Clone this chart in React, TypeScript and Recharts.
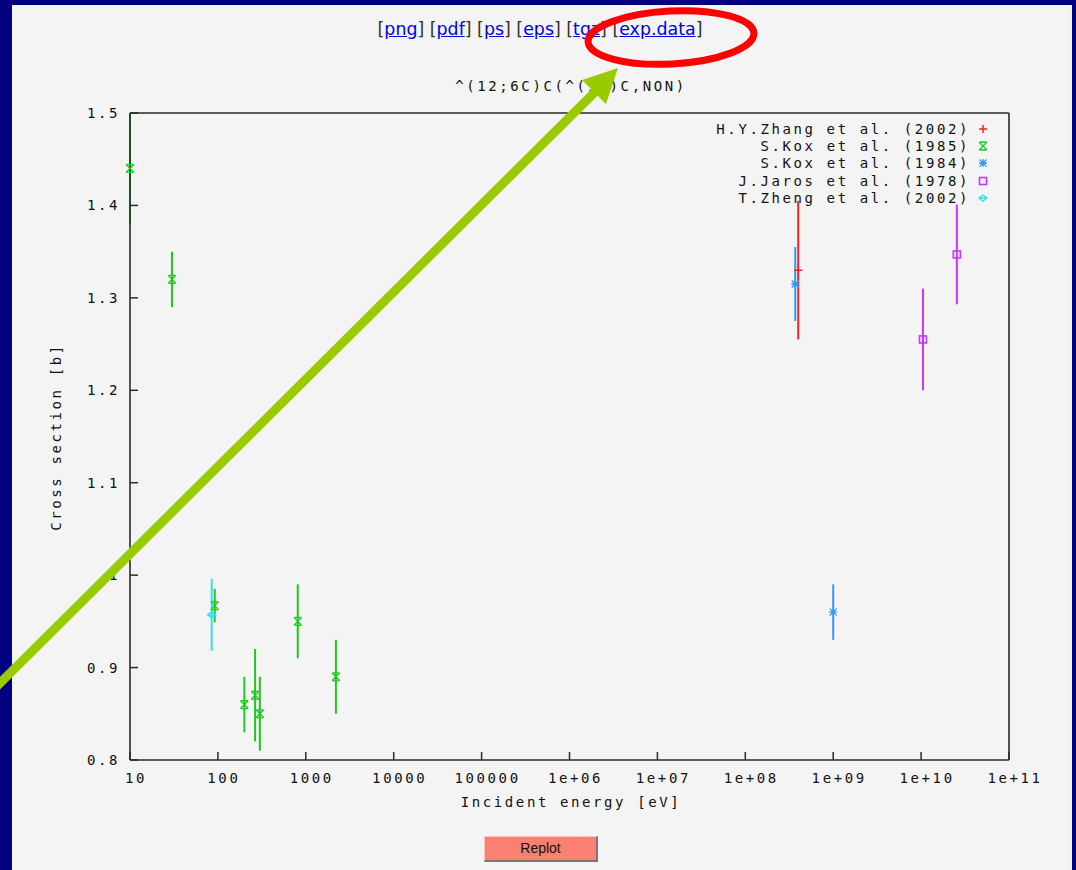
import React from "react";
import { ScatterChart, Scatter, XAxis, YAxis, ErrorBar, Legend } from "recharts";

// energy [eV], cross section [b], error [b]
const zhang2002 = [{ energy: 4.0e8, sigma: 1.33, err: 0.075 }];
const kox1985 = [
  { energy: 10, sigma: 1.44, err: 0.06 },
  { energy: 30, sigma: 1.32, err: 0.03 },
  { energy: 92, sigma: 0.967, err: 0.018 },
  { energy: 200, sigma: 0.86, err: 0.03 },
  { energy: 265, sigma: 0.87, err: 0.05 },
  { energy: 300, sigma: 0.85, err: 0.04 },
  { energy: 810, sigma: 0.95, err: 0.04 },
  { energy: 2200, sigma: 0.89, err: 0.04 },
];
const kox1984 = [
  { energy: 3.7e8, sigma: 1.315, err: 0.04 },
  { energy: 1.0e9, sigma: 0.96, err: 0.03 },
];
const jaros1978 = [
  { energy: 1.05e10, sigma: 1.255, err: 0.055 },
  { energy: 2.55e10, sigma: 1.347, err: 0.054 },
];
const zheng2002 = [{ energy: 85, sigma: 0.957, err: 0.039 }];

const xTicks = [10, 100, 1000, 1e4, 1e5, 1e6, 1e7, 1e8, 1e9, 1e10, 1e11];
const xTickLabels = ["10", "100", "1000", "10000", "100000", "1e+06", "1e+07", "1e+08", "1e+09", "1e+10", "1e+11"];
const yTicks = [0.8, 0.9, 1.0, 1.1, 1.2, 1.3, 1.4, 1.5];
const yTickLabels = ["0.8", "0.9", "1", "1.1", "1.2", "1.3", "1.4", "1.5"];

const MONO = "'DejaVu Sans Mono', 'Liberation Mono', monospace";
const AXIS = "#2a2a2a";
const TICK = 8;

type Mark = (cx: number, cy: number, c: string) => React.ReactElement;

const plusMark: Mark = (cx, cy, c) => (
  <path d={`M${cx - 4},${cy}H${cx + 4}M${cx},${cy - 4}V${cy + 4}`} stroke={c} strokeWidth={1.5} fill="none" />
);
const crossMark: Mark = (cx, cy, c) => (
  <path
    d={`M${cx - 4},${cy - 4}L${cx + 4},${cy + 4}M${cx - 4},${cy + 4}L${cx + 4},${cy - 4}M${cx - 3},${cy - 4}H${cx + 3}M${cx - 3},${cy + 4}H${cx + 3}`}
    stroke={c}
    strokeWidth={1.3}
    fill="none"
  />
);
const starMark: Mark = (cx, cy, c) => (
  <g>
    <path
      d={`M${cx - 4},${cy}H${cx + 4}M${cx},${cy - 4}V${cy + 4}M${cx - 3.5},${cy - 3.5}L${cx + 3.5},${cy + 3.5}M${cx - 3.5},${cy + 3.5}L${cx + 3.5},${cy - 3.5}`}
      stroke={c}
      strokeWidth={1.3}
      fill="none"
    />
    <circle cx={cx} cy={cy} r={2.2} fill={c} />
  </g>
);
const boxMark: Mark = (cx, cy, c) => (
  <rect x={cx - 3.5} y={cy - 3.5} width={7} height={7} stroke={c} strokeWidth={1.6} fill="none" />
);
const diamondMark: Mark = (cx, cy, c) => (
  <path
    d={`M${cx - 4},${cy}L${cx},${cy - 3}L${cx + 4},${cy}L${cx},${cy + 3}ZM${cx - 4},${cy}H${cx + 4}`}
    stroke={c}
    strokeWidth={1.4}
    fill="none"
  />
);

const series = [
  { name: "H.Y.Zhang et al. (2002)", data: zhang2002, color: "#ff2020", mark: plusMark },
  { name: "S.Kox et al. (1985)", data: kox1985, color: "#1ec81e", mark: crossMark },
  { name: "S.Kox et al. (1984)", data: kox1984, color: "#3399ff", mark: starMark },
  { name: "J.Jaros et al. (1978)", data: jaros1978, color: "#cc33ff", mark: boxMark },
  { name: "T.Zheng et al. (2002)", data: zheng2002, color: "#33e0f0", mark: diamondMark },
];

const labelFor = (ticks: number[], labels: string[], v: number) => {
  const i = ticks.findIndex((t) => Math.abs(t - v) <= Math.abs(t) * 1e-6);
  return i >= 0 ? labels[i] : String(v);
};

const textStyle = { fontFamily: MONO, fontSize: 14, letterSpacing: 2.6, fill: "#111" };

const BottomTick = (p: any) => (
  <g>
    <line x1={p.x} y1={p.y} x2={p.x} y2={p.y - TICK} stroke={AXIS} strokeWidth={1.5} />
    <text x={p.x + 6} y={p.y + 23} textAnchor="middle" style={textStyle}>
      {labelFor(xTicks, xTickLabels, p.payload.value)}
    </text>
  </g>
);
const TopTick = (p: any) => <line x1={p.x} y1={p.y} x2={p.x} y2={p.y + TICK} stroke={AXIS} strokeWidth={1.5} />;
const LeftTick = (p: any) => (
  <g>
    <line x1={p.x} y1={p.y} x2={p.x + TICK} y2={p.y} stroke={AXIS} strokeWidth={1.5} />
    <text x={p.x - 10} y={p.y + 5} textAnchor="end" style={textStyle}>
      {labelFor(yTicks, yTickLabels, p.payload.value)}
    </text>
  </g>
);
const RightTick = (p: any) => <line x1={p.x} y1={p.y} x2={p.x - TICK} y2={p.y} stroke={AXIS} strokeWidth={1.5} />;

const LegendBox = () => (
  <div style={{ fontFamily: MONO, fontSize: 14, letterSpacing: 2.6, color: "#111" }}>
    {series.map((s) => (
      <div key={s.name} style={{ display: "flex", alignItems: "center", justifyContent: "flex-end", height: 17.3 }}>
        <span style={{ whiteSpace: "pre" }}>{s.name}</span>
        <svg width={16} height={12} style={{ marginLeft: 5 }}>
          {s.mark(8, 6, s.color)}
        </svg>
      </div>
    ))}
  </div>
);

export default function App() {
  return (
    <div style={{ position: "absolute", left: 0, top: 0, width: 1076, height: 870, background: "#000080", overflow: "hidden" }}>
      <div style={{ position: "absolute", left: 12, top: 5, width: 1060, height: 865, background: "#f4f4f4" }} />

      <div
        style={{
          position: "absolute",
          left: 0,
          width: 1080,
          top: 19,
          textAlign: "center",
          fontFamily: "'DejaVu Sans', sans-serif",
          fontSize: 17.4,
          lineHeight: "20px",
          color: "#333",
        }}
      >
        {["png", "pdf", "ps", "eps", "tgz", "exp.data"].map((l, i) => (
          <span key={l}>
            {i > 0 ? " " : ""}[<span style={{ color: "#0000ee", textDecoration: "underline" }}>{l}</span>]
          </span>
        ))}
      </div>

      <div
        style={{
          position: "absolute",
          left: 0,
          width: 1142,
          top: 78,
          textAlign: "center",
          fontFamily: MONO,
          fontSize: 14,
          letterSpacing: 2.6,
          color: "#111",
          whiteSpace: "pre",
        }}
      >
        ^(12;6C)C(^(12)C,NON)
      </div>

      <div style={{ position: "absolute", left: 0, top: 0 }}>
        <ScatterChart width={1076} height={870} margin={{ top: 112, right: 66, bottom: 60, left: 70 }}>
          <XAxis
            dataKey="energy"
            type="number"
            scale="log"
            domain={[10, 1e11]}
            ticks={xTicks}
            interval={0}
            height={50}
            tickSize={0}
            tickMargin={0}
            tickLine={false}
            axisLine={{ stroke: AXIS, strokeWidth: 1.6 }}
            tick={<BottomTick />}
            label={{
              content: () => (
                <text x={571} y={807} textAnchor="middle" style={textStyle}>
                  Incident energy [eV]
                </text>
              ),
            }}
          />
          <XAxis
            xAxisId="top"
            orientation="top"
            type="number"
            scale="log"
            domain={[10, 1e11]}
            ticks={xTicks}
            interval={0}
            height={1}
            tickSize={0}
            tickMargin={0}
            tickLine={false}
            axisLine={{ stroke: AXIS, strokeWidth: 1.6 }}
            tick={<TopTick />}
          />
          <YAxis
            dataKey="sigma"
            type="number"
            domain={[0.8, 1.5]}
            ticks={yTicks}
            interval={0}
            width={60}
            tickSize={0}
            tickMargin={0}
            tickLine={false}
            axisLine={{ stroke: AXIS, strokeWidth: 1.6 }}
            tick={<LeftTick />}
            label={{
              content: () => (
                <text x={61} y={437} textAnchor="middle" transform="rotate(-90, 61, 437)" style={textStyle}>
                  Cross section [b]
                </text>
              ),
            }}
          />
          <YAxis
            yAxisId="right"
            orientation="right"
            type="number"
            domain={[0.8, 1.5]}
            ticks={yTicks}
            interval={0}
            width={1}
            tickSize={0}
            tickMargin={0}
            tickLine={false}
            axisLine={{ stroke: AXIS, strokeWidth: 1.6 }}
            tick={<RightTick />}
          />
          <Legend
            layout="vertical"
            align="center"
            verticalAlign="middle"
            content={<LegendBox />}
            wrapperStyle={{ top: 120, right: 85, left: "auto", width: "auto" }}
          />
          {series.map((s) => (
            <Scatter
              key={s.name}
              name={s.name}
              data={s.data}
              isAnimationActive={false}
              shape={(p: any) => s.mark(p.cx, p.cy, s.color)}
            >
              <ErrorBar dataKey="err" direction="y" width={0} stroke={s.color} strokeWidth={2} isAnimationActive={false} />
            </Scatter>
          ))}
        </ScatterChart>
      </div>

      <div
        style={{
          position: "absolute",
          left: 484,
          top: 836,
          width: 111,
          height: 23,
          background: "#fa8072",
          borderTop: "1px solid #ffc4b8",
          borderLeft: "1px solid #ffc4b8",
          borderRight: "2px solid #777",
          borderBottom: "2px solid #777",
          fontFamily: "'Liberation Sans', Arial, sans-serif",
          fontSize: 14,
          lineHeight: "23px",
          textAlign: "center",
          color: "#111",
        }}
      >
        Replot
      </div>

      <svg width={1076} height={870} style={{ position: "absolute", left: 0, top: 0, pointerEvents: "none" }}>
        <ellipse cx={671} cy={37.5} rx={83} ry={26.5} transform="rotate(-3, 671, 37.5)" fill="none" stroke="#ff0000" strokeWidth={7} />
        <line x1={-5} y1={688} x2={596} y2={91} stroke="#99cc00" strokeWidth={9} />
        <polygon points="618,68 582,80 606,104" fill="#99cc00" />
      </svg>
    </div>
  );
}
